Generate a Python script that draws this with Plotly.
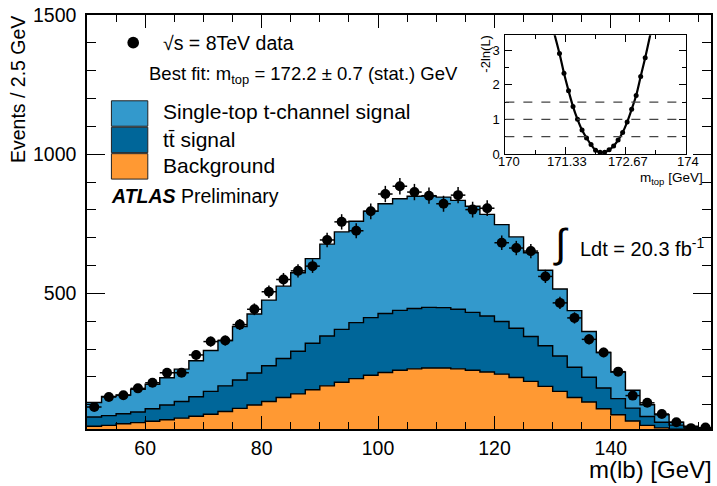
import numpy as np
import plotly.graph_objects as go

# ---------------- data ----------------
bin_edges = np.arange(50.0, 157.5 + 1e-9, 2.5)          # 43 bins of 2.5 GeV
bin_centers = 0.5 * (bin_edges[:-1] + bin_edges[1:])

data_counts = [92, 128, 134, 159, 179, 215, 215, 279, 327, 331,
               388, 443, 506, 550, 581, 598, 692, 757, 725, 795,
               857, 885, 864, 851, 822, 853, 801, 806, 682, 663,
               652, 561, 466, 412, 335, 288, 219, 133, 107, 67,
               37, 16, 18]

background = [23, 26, 32, 36, 41, 46, 52, 59, 66, 76,
              87, 99, 112, 126, 139, 154, 168, 181, 194, 206,
              216, 224, 229, 232, 232, 229, 224, 218, 210, 198,
              184, 166, 148, 126, 110, 86, 64, 42, 26, 17,
              12, 10, 8]

ttbar = [33, 35, 36, 38, 45, 53, 60, 70, 82, 92,
         102, 115, 128, 140, 153, 167, 179, 190, 201, 207,
         212, 215, 217, 218, 217, 214, 208, 201, 189, 177,
         161, 146, 127, 109, 89, 74, 58, 46, 32, 20,
         15, 10, 7]

single_top = [52, 69, 67, 82, 88, 98, 116, 129, 147, 163,
              192, 212, 236, 260, 282, 304, 330, 350, 364, 382,
              394, 401, 403, 400, 397, 391, 381, 365, 348, 328,
              301, 271, 241, 203, 164, 128, 96, 64, 42, 27,
              10, 3, 1]

# likelihood scan (inset)
m_top_scan = [171.2, 171.3, 171.4, 171.5, 171.6, 171.7, 171.8, 171.9, 172.0, 172.1,
              172.2, 172.3, 172.4, 172.5, 172.6, 172.7, 172.8, 172.9, 173.0, 173.1]
neg2lnL = [2.90, 2.33, 1.83, 1.37, 1.00, 0.69, 0.46, 0.27, 0.11, 0.05,
           0.05, 0.12, 0.23, 0.40, 0.62, 0.92, 1.29, 1.69, 2.24, 2.78]
curve_m = [171.07] + m_top_scan + [173.23]
curve_v = [3.55] + neg2lnL + [3.55]
dashed_levels = [0.5, 1.0, 1.5]

x_ticks = [60, 80, 100, 120, 140]
y_ticks = [500, 1000, 1500]
inset_x_ticks = [170, 171.33, 172.67, 174]
inset_x_labels = ["170", "171.33", "172.67", "174"]
inset_y_ticks = [0, 1, 2, 3]

# ---------------- style ----------------
C_STOP = "#3399cc"
C_TT = "#006699"
C_BKG = "#ff9933"
FONT = "Liberation Sans, Arial, Helvetica, sans-serif"

W, H = 717, 486
ML, MR, MT, MB = 87, 4, 14, 57
PW, PH = W - ML - MR, H - MT - MB


def fx(px):
    """page pixel x -> paper coordinate"""
    return (px - ML) / PW


def fy(py):
    """page pixel y -> paper coordinate"""
    return (H - MB - py) / PH


bkg = np.array(background, float)
lvl_tt = bkg + np.array(ttbar, float)
lvl_tot = lvl_tt + np.array(single_top, float)

fig = go.Figure()


def step_trace(vals, color):
    ys = list(vals) + [vals[-1]]
    return go.Scatter(x=list(bin_edges), y=ys, mode="lines", line_shape="hv",
                      line=dict(color="black", width=1.4), fill="tozeroy",
                      fillcolor=color, hoverinfo="skip", showlegend=False,
                      xaxis="x", yaxis="y")


fig.add_trace(step_trace(lvl_tot, C_STOP))
fig.add_trace(step_trace(lvl_tt, C_TT))
fig.add_trace(step_trace(bkg, C_BKG))

fig.add_trace(go.Scatter(
    x=bin_centers, y=data_counts, mode="markers",
    marker=dict(color="black", size=10),
    error_y=dict(type="data", array=np.sqrt(data_counts), color="black", thickness=1.5, width=0),
    error_x=dict(type="constant", value=1.25, color="black", thickness=1.5, width=0),
    showlegend=False, xaxis="x", yaxis="y"))

# inset
fig.add_trace(go.Scatter(x=curve_m, y=curve_v, mode="lines", line_shape="spline",
                         line=dict(color="black", width=2.2), showlegend=False,
                         xaxis="x2", yaxis="y2"))
fig.add_trace(go.Scatter(x=m_top_scan, y=neg2lnL, mode="markers",
                         marker=dict(color="black", size=5), showlegend=False,
                         xaxis="x2", yaxis="y2"))

shapes = []
for lv in dashed_levels:
    shapes.append(dict(type="line", xref="x2", yref="y2", x0=170, x1=174, y0=lv, y1=lv,
                       line=dict(color="#444", width=1.2, dash="dash")))

# legend boxes
for (y0, y1, col) in [(100, 125.5, C_STOP), (126.5, 152, C_TT), (153, 178.5, C_BKG)]:
    shapes.append(dict(type="rect", xref="paper", yref="paper",
                       x0=fx(111.5), x1=fx(148), y0=fy(y1), y1=fy(y0),
                       fillcolor=col, line=dict(color="#222", width=1)))
shapes.append(dict(type="circle", xref="paper", yref="paper",
                   x0=fx(127.5), x1=fx(139.2), y0=fy(47.6), y1=fy(35.9),
                   fillcolor="black", line=dict(color="black", width=0)))


def ann(text, x, y, size, xanchor="left", yanchor="middle", angle=0):
    return dict(text=text, x=fx(x), y=fy(y), xref="paper", yref="paper",
                xanchor=xanchor, yanchor=yanchor, showarrow=False, textangle=angle,
                font=dict(family=FONT, size=size, color="black"))


annotations = [
    ann("√s = 8TeV data", 161, 42, 19.5),
    ann("Best fit: m<sub>top</sub> = 172.2 ± 0.7 (stat.) GeV", 147, 74, 18.5),
    ann("Single-top t-channel signal", 161, 111, 21),
    ann("tt̄ signal", 161, 139, 21),
    ann("Background", 161, 165, 21),
    ann("<b><i>ATLAS</i></b> Preliminary", 109, 195, 19.5),
    ann("∫", 563, 243, 40, xanchor="center"),
    ann("Ldt = 20.3 fb<sup>-1</sup>", 580, 247, 20),
    ann("Events / 2.5 GeV", 18, 89, 19.5, xanchor="center", yanchor="middle", angle=-90),
    ann("m(lb) [GeV]", 716, 470, 24, xanchor="right"),
    ann("-2ln(L)", 487, 53, 13, xanchor="center", yanchor="middle", angle=-90),
    ann("m<sub>top</sub> [GeV]", 707, 177.5, 13.5, xanchor="right"),
]
# inset x tick labels, placed at the inset axis tick values
for i, (tv, tl) in enumerate(zip(inset_x_ticks, inset_x_labels)):
    annotations.append(dict(text=tl, x=tv, xref="x2", y=fy(161), yref="paper",
                            xanchor="center", yanchor="middle", showarrow=False,
                            xshift=4 if i == 0 else 2,
                            font=dict(family=FONT, size=13, color="black")))

axis_common = dict(showline=True, linecolor="black", linewidth=1.5, mirror="ticks",
                   ticks="inside", tickcolor="black", showgrid=False, zeroline=False,
                   ticklabeloverflow="allow",
                   tickfont=dict(family=FONT, size=19.5, color="black"))

fig.update_layout(
    width=W, height=H,
    margin=dict(l=ML, r=MR, t=MT, b=MB),
    paper_bgcolor="white", plot_bgcolor="white",
    font=dict(family=FONT, color="black"),
    showlegend=False,
    xaxis=dict(range=[50, 157.2], tickvals=x_ticks, ticklen=13, tickwidth=1.3,
               minor=dict(dtick=5, tick0=50, ticklen=7, ticks="inside", tickcolor="black", tickwidth=1.2),
               ticklabelstandoff=1, **axis_common),
    yaxis=dict(range=[13, 1500], tickvals=y_ticks, ticklen=18, tickwidth=1.3,
               minor=dict(dtick=100, tick0=0, ticklen=9, ticks="inside", tickcolor="black", tickwidth=1.2),
               ticklabelstandoff=5, **axis_common),
    xaxis2=dict(domain=[fx(506.7), fx(687.7)], anchor="y2", range=[170, 174],
                tickvals=inset_x_ticks, showticklabels=False, ticklen=7,
                minor=dict(dtick=2 / 3, tick0=170, ticklen=4, ticks="inside", tickcolor="black"),
                showline=True, linecolor="black", linewidth=1.2, mirror="ticks", ticks="inside",
                tickcolor="black", showgrid=False, zeroline=False),
    yaxis2=dict(domain=[fy(153.3), fy(34.3)], anchor="x2", range=[0, 3.43],
                tickvals=inset_y_ticks, ticklen=7,
                minor=dict(dtick=0.5, tick0=0, ticklen=4, ticks="inside", tickcolor="black"),
                showline=True, linecolor="black", linewidth=1.2, mirror="ticks", ticks="inside",
                tickcolor="black", showgrid=False, zeroline=False, ticklabelstandoff=2,
                tickfont=dict(family=FONT, size=13, color="black")),
    shapes=shapes,
    annotations=annotations,
)

# remove the browser's default page margin so the 717x486 figure fills the window exactly
fig.write_html("out.html", config={"displayModeBar": False},
               post_script="document.body.style.margin='0px';document.body.style.overflow='hidden';")
